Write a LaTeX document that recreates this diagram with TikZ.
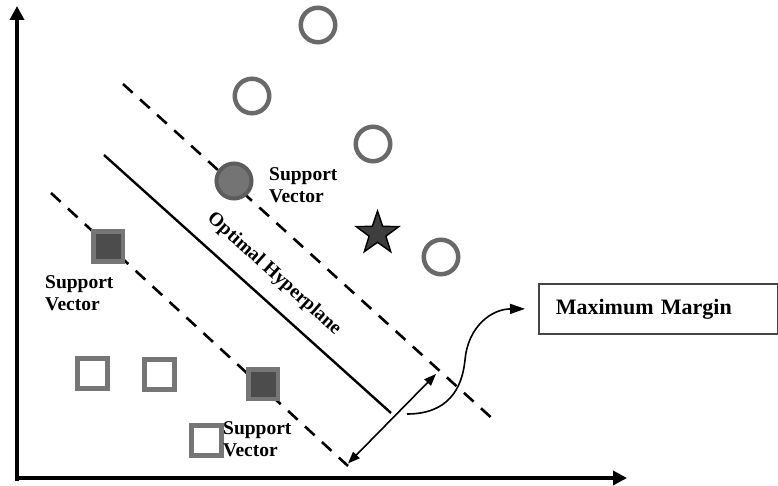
\documentclass[tikz,border=0pt]{standalone}
\usepackage{fontspec}
\setmainfont{Liberation Serif}
\usetikzlibrary{arrows.meta,shapes.geometric}
\definecolor{ringgray}{HTML}{696969}
\definecolor{svfill}{HTML}{747474}
\definecolor{svedge}{HTML}{5C5C5C}
\definecolor{sqedge}{HTML}{767676}
\definecolor{sqfill}{HTML}{4C4C4C}
\definecolor{starfill}{HTML}{3E3E3E}
\definecolor{boxedge}{HTML}{444444}
\begin{document}
\begin{tikzpicture}[x=1pt,y=-1pt,
  axis/.style={line width=3.8pt,-{Triangle[length=14pt,width=14pt]}},
  marginline/.style={line width=2.6pt,dash pattern=on 13pt off 10pt},
  hyperline/.style={line width=2.4pt},
  ring/.style={circle,draw=ringgray,line width=4.5pt,minimum size=34.5pt,inner sep=0pt},
  svring/.style={circle,draw=svedge,fill=svfill,line width=4pt,minimum size=35pt,inner sep=0pt},
  openbox/.style={rectangle,draw=sqedge,fill=white,line width=5pt,minimum size=30pt,inner sep=0pt},
  svbox/.style={rectangle,draw=sqedge,fill=sqfill,line width=4.5pt,minimum size=29.5pt,inner sep=0pt},
  starmark/.style={star,star points=5,star point ratio=2.55,draw=black,fill=starfill,line width=1.4pt,minimum size=45pt,inner sep=0pt},
  lbl/.style={font=\fontsize{19.5}{22}\selectfont\bfseries,align=left,inner sep=0pt,anchor=north west},
  thinarrow/.style={line width=1.6pt},
]
\useasboundingbox (0,0) rectangle (778,486);

% axes
\coordinate (ybot) at (17,480.5);
\coordinate (ytop) at (17,6);
\coordinate (xleft) at (15,478);
\coordinate (xright) at (627,478);
\draw[axis] (ybot) -- (ytop);
\draw[axis] (xleft) -- (xright);

% margin boundaries and separating hyperplane
\coordinate (u1) at (123,84);
\coordinate (u2) at (495,421);
\coordinate (l1) at (51,193);
\coordinate (l2) at (348,466);
\coordinate (h1) at (104,155);
\coordinate (h2) at (391,413);
\draw[marginline] (u1) -- (u2);
\draw[marginline] (l1) -- (l2);
\draw[hyperline] (h1) -- (h2);

% class of circles
\node[ring] (c1) at (318,25) {};
\node[ring] (c2) at (252,96) {};
\node[ring] (c3) at (373,144) {};
\node[ring] (c4) at (441,257) {};
\node[svring] (sv1) at (234,181) {};
\node[starmark] (st) at (377.5,233.5) {};

% class of squares
\node[svbox] (sv2) at (108,246.5) {};
\node[openbox] (q1) at (92,373) {};
\node[openbox] (q2) at (159,374) {};
\node[svbox] (sv3) at (263,384) {};
\node[openbox] (q3) at (206,440) {};

% labels
\node[lbl] (t1) at (269,167) {Support\\Vector};
\node[lbl] (t2) at (45,275) {Support\\Vector};
\node[lbl] (t3) at (223,421) {Support\\Vector};
\node[font=\fontsize{19.5}{22}\selectfont\bfseries,rotate=-42,inner sep=0pt] (opt) at (274,274) {Optimal Hyperplane};

% margin width
\coordinate (ma) at (436,374);
\coordinate (mb) at (348,463.5);
\draw[thinarrow,{Triangle[length=12pt,width=9pt]}-{Triangle[length=12pt,width=9pt]}] (mb) -- (ma);

% callout box
\node[draw=boxedge,line width=1.6pt,anchor=north west,minimum width=239pt,minimum height=50pt,
      inner xsep=17pt,text width=205pt,align=left,font=\fontsize{22}{24}\selectfont\bfseries] (mm) at (538,283) {Maximum Margin};
\coordinate (cs) at (407,414);
\draw[thinarrow,-{Triangle[length=15pt,width=10pt]},shorten >=13pt]
  (cs) .. controls (447,414) and (462,390) .. (465,360)
       .. controls (468,326) and (492,309) .. (mm.west);
\end{tikzpicture}
\end{document}
